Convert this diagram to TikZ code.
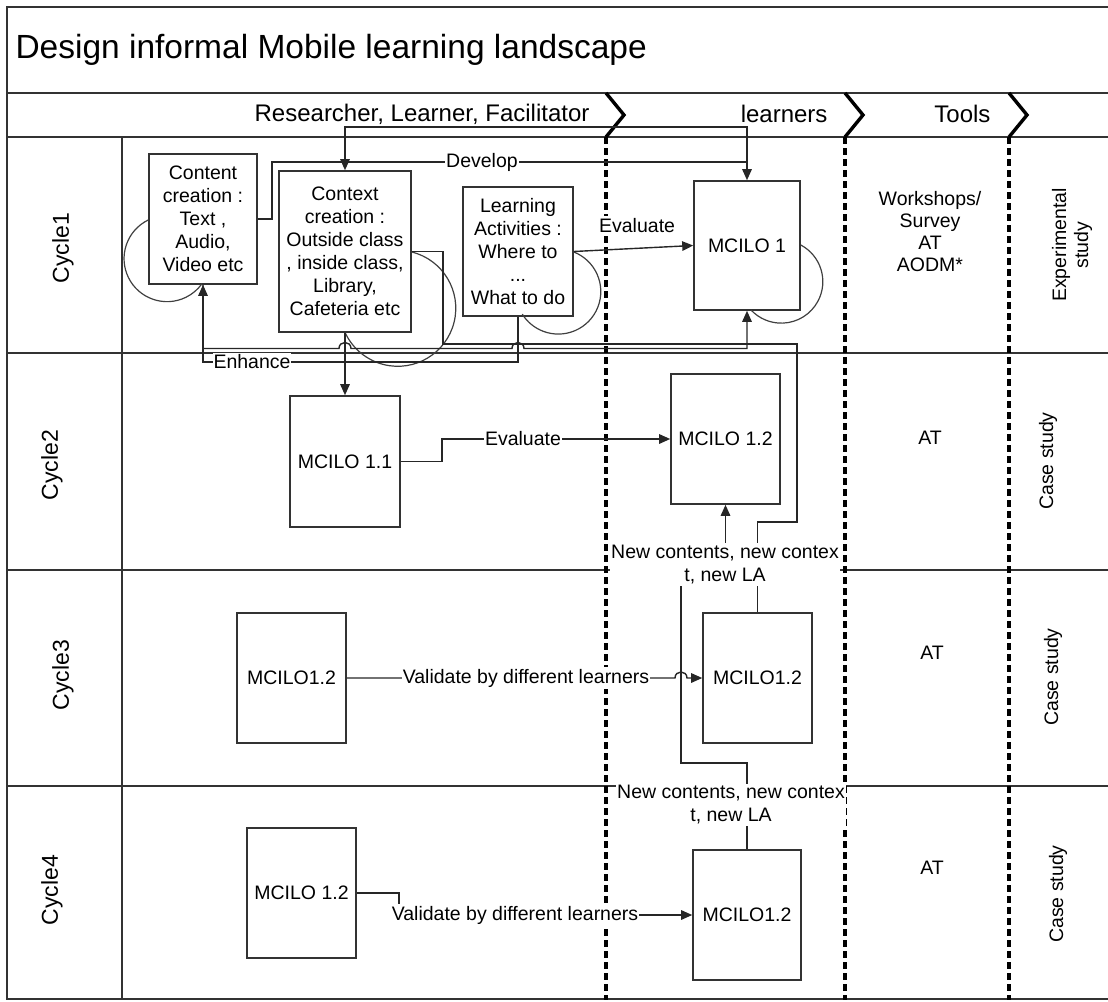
\documentclass[tikz,border=0pt]{standalone}
\usepackage{fontspec}
\setmainfont{Liberation Sans}
\usetikzlibrary{arrows.meta}

\begin{document}
\begin{tikzpicture}[x=1pt,y=-1pt,
  box/.style={draw=black!80,line width=1.6pt,fill=white,inner sep=0pt,align=center,font=\fontsize{19.5}{23}\selectfont},
  conn/.style={draw=black!85,line width=1.4pt},
  tip/.style={-{Triangle[length=11pt,width=9.5pt]}},
  selfloop/.style={draw=black!75,line width=1.2pt},
  lbl/.style={fill=white,inner xsep=1pt,inner ysep=2pt,align=center,font=\fontsize{19.5}{23}\selectfont},
  txt/.style={align=center,font=\fontsize{19.5}{22}\selectfont},
  lane/.style={draw=black!80,line width=2.4pt},
  phase/.style={line width=3.6pt,dash pattern=on 7pt off 4pt},
  chev/.style={line width=3.4pt,line join=miter}]
\useasboundingbox (0,0) rectangle (1108,1001);

\draw[lane] (1108,7) -- (7,7) -- (7,999) -- (1108,999);
\draw[lane] (7,93) -- (1108,93);
\draw[lane] (7,137) -- (1108,137);
\draw[lane] (7,353) -- (1108,353);
\draw[lane] (7,570) -- (1108,570);
\draw[lane] (7,786) -- (1108,786);
\draw[lane] (122,137) -- (122,999);

\draw[phase] (606,137) -- (606,1000);
\draw[phase] (845,137) -- (845,1000);
\draw[phase] (1009,137) -- (1009,1000);
\draw[chev] (606,93) -- (624,115) -- (606,137);
\draw[chev] (845,93) -- (863,115) -- (845,137);
\draw[chev] (1009,93) -- (1027,115) -- (1009,137);

\node[anchor=west,font=\fontsize{33.5}{36}\selectfont] (title) at (12,50) {Design informal Mobile learning landscape};
\node[anchor=east,font=\fontsize{24}{26}\selectfont] (who) at (593,114) {Researcher, Learner, Facilitator};
\node[anchor=east,font=\fontsize{24}{26}\selectfont] (lrn) at (831,114) {learners};
\node[anchor=east,font=\fontsize{24}{26}\selectfont] (tls) at (994,114) {Tools};

\node[rotate=90,font=\fontsize{23}{26}\selectfont] (cy1) at (63,248) {Cycle1};
\node[rotate=90,font=\fontsize{23}{26}\selectfont] (cy2) at (52,465) {Cycle2};
\node[rotate=90,font=\fontsize{23}{26}\selectfont] (cy3) at (63,675) {Cycle3};
\node[rotate=90,font=\fontsize{23}{26}\selectfont] (cy4) at (52,890) {Cycle4};

\node[box,minimum width=108pt,minimum height=130pt] (cc) at (203,219) {Content\\creation :\\Text ,\\Audio,\\Video etc};
\node[box,minimum width=132pt,minimum height=161pt] (ctx) at (345,251.5) {Context\\creation :\\Outside class\\, inside class,\\Library,\\Cafeteria etc};
\node[box,minimum width=110pt,minimum height=129pt] (la) at (518,251.5) {Learning\\Activities :\\Where to\\...\\What to do};
\node[box,minimum width=106pt,minimum height=129pt] (m1) at (747,245.5) {MCILO 1};
\node[box,minimum width=110pt,minimum height=131pt] (m11) at (345,461.5) {MCILO 1.1};
\node[box,minimum width=109pt,minimum height=130pt] (m12) at (725.5,439) {MCILO 1.2};
\node[box,minimum width=109pt,minimum height=130pt] (c3a) at (291.5,678) {MCILO1.2};
\node[box,minimum width=109pt,minimum height=130pt] (c3b) at (757.5,678) {MCILO1.2};
\node[box,minimum width=109pt,minimum height=130pt] (c4a) at (301.5,893) {MCILO 1.2};
\node[box,minimum width=108pt,minimum height=130pt] (c4b) at (747,915) {MCILO1.2};

\node[txt] (tool1) at (930,232) {Workshops/\\Survey\\AT\\AODM*};
\node[txt] (tool2) at (930,438) {AT};
\node[txt] (tool3) at (932,653) {AT};
\node[txt] (tool4) at (932,868) {AT};
\node[txt,rotate=90] (kind1) at (1072,245) {Experimental\\study};
\node[txt,rotate=90] (kind2) at (1048,461) {Case study};
\node[txt,rotate=90] (kind3) at (1053,677) {Case study};
\node[txt,rotate=90] (kind4) at (1058,894) {Case study};

\draw[selfloop] (cc.west |- 0,220) arc[start angle=244,end angle=35.5,radius=43];
\draw[selfloop] (ctx.east |- 0,252) arc[start angle=-76,end angle=155,radius=58];
\draw[selfloop] (la.east |- 0,252) arc[start angle=-68.6,end angle=148,radius=42.5];
\draw[selfloop] (m1.east |- 0,245) arc[start angle=-62,end angle=137,radius=41.5];

\draw[conn,tip] (cc.east) -- (272,219) -- (272,162) -- (482,162) node[lbl] {Develop} -- (m1.north |- 0,162) -- (m1.north);
\draw[conn,tip] (m1.north |- 0,162) -- (m1.north |- 0,127) -| (ctx.north);
\draw[conn,tip] (la.east) -- node[lbl,pos=0.53,above=13pt] {Evaluate} (m1.west);
\draw[conn,tip] (ctx.south) -- (m11.north);
\draw[conn,tip] (cc.south) -- (cc.south |- 0,348.5) -- (339,348.5) .. controls (339,340.5) and (351,340.5) .. (351,348.5) -- (512,348.5) .. controls (512,340.5) and (524,340.5) .. (524,348.5) -| (m1.south);
\draw[conn,tip] (la.south) -- (la.south |- 0,362) -- (252,362) node[lbl] {Enhance} -| (cc.south);
\draw[conn] (c3b.north) -- (c3b.north |- 0,522) -- (797,522) -- (797,344) -| (443,251.5) -- (ctx.east);
\draw[conn,tip] (m11.east) -- (442,461.5) -- (442,439) -- (523,439) node[lbl] {Evaluate} -- (m12.west);
\draw[conn,tip] (c4b.north) -- (c4b.north |- 0,763) -- (681,763) -- (681,547) -- (m12.south |- 0,547) -- (m12.south);
\draw[conn,tip] (c3a.east) -- (526,678) node[lbl] {Validate by different learners} -- (675,678) .. controls (675,670) and (687,670) .. (687,678) -- (c3b.west);
\draw[conn,tip] (c4a.east) -- (c4a.east -| 399,0) -- (399,915) -- (515,915) node[lbl] {Validate by different learners} -- (c4b.west);

\node[lbl] (new1) at (725,564.5) {New contents, new contex\\t, new LA};
\node[lbl] (new2) at (731,805) {New contents, new contex\\t, new LA};
\end{tikzpicture}
\end{document}
